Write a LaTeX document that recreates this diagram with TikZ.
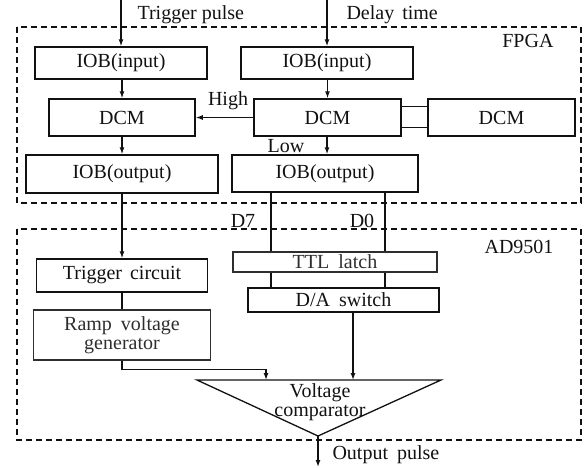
\documentclass[tikz,border=0pt]{standalone}
\usepackage{fontspec}
\setmainfont{Liberation Serif}
\usepackage{tikz}
\usetikzlibrary{positioning, calc, arrows.meta}
\definecolor{BlockInk}{HTML}{111111}
\definecolor{softGray}{HTML}{2E2E2E}

\begin{document}
\begin{tikzpicture}[x=1pt, y=-1pt, font=\fontsize{20}{19}\selectfont, text=BlockInk,
  blk/.style={draw=BlockInk, line width=1.5pt, inner sep=0pt, align=center},
  thinblk/.style={draw=softGray, line width=1.1pt, inner sep=0pt, align=center, text=softGray},
  chip/.style={draw=BlockInk, line width=1.3pt, dash pattern=on 6pt off 4pt},
  wire/.style={draw=BlockInk, line width=1.3pt},
  flow/.style={wire, -{Latex[length=7pt,width=5pt]}}]
  \useasboundingbox (0,0) rectangle (585,467);
  % chip outlines
  \draw[chip] (17,27) rectangle (581,203);
  \draw[chip] (17,229) rectangle (581,440);
  \node[anchor=east] (fpga) at (557,41) {FPGA};
  \node[anchor=east] (adc) at (557,247) {AD9501};
  % FPGA blocks
  \node[blk, minimum width=172pt, minimum height=32pt] (inL) at (121,63) {IOB(input)};
  \node[blk, minimum width=172pt, minimum height=32pt] (inR) at (327,63) {IOB(input)};
  \node[blk, minimum width=146pt, minimum height=37pt] (dcmL) at (122,117.5) {DCM};
  \node[blk, minimum width=147pt, minimum height=37pt] (dcmM) at (327.5,117.5) {DCM};
  \node[blk, minimum width=147pt, minimum height=37pt] (dcmR) at (501.5,117.5) {DCM};
  \node[blk, minimum width=192pt, minimum height=38pt] (outL) at (122,174) {IOB(output)};
  \node[blk, minimum width=186pt, minimum height=37pt] (outR) at (325,173.5) {IOB(output)};
  % AD9501 blocks
  \node[blk, minimum width=171pt, minimum height=33pt] (trig) at (122,275.5) {Trigger\hspace{3pt} circuit};
  \node[thinblk, minimum width=177pt, minimum height=50pt] (ramp) at (122,335) {Ramp\hspace{4pt} voltage\\generator};
  \node[thinblk, minimum width=204pt, minimum height=20pt] (ttl) at (335,262) {TTL\hspace{4pt} latch};
  \node[blk, minimum width=191pt, minimum height=24pt] (da) at (343.5,300) {D/A\hspace{4pt} switch};
  % comparator
  \coordinate (cmpL) at (197,380);
  \coordinate (cmpR) at (441,380);
  \coordinate (cmpTip) at (318,436);
  \draw[wire] (cmpL) -- (cmpR) -- (cmpTip) -- cycle;
  \node[align=center] (cmp) at (320,402) {Voltage\\comparator};
  \coordinate (cmpA) at (266,380);
  \coordinate (cmpB) at (353,380);
  % inputs and output
  \coordinate (trigIn) at (121,0);
  \coordinate (delayIn) at (327,0);
  \coordinate (pulseOut) at (318,467);
  \node[anchor=west] (trigTxt) at (134,15) {Trigger pulse};
  \node[anchor=west] (delayTxt) at (343,15) {Delay\hspace{3pt} time};
  \node[anchor=west] (outTxt) at (329,455) {Output\hspace{4pt} pulse};
  % data bus
  \coordinate (busA) at (271,0);
  \coordinate (busB) at (385,0);
  \node (d7) at (243,221) {D7};
  \node (d0) at (362,221) {D0};
  \node (high) at (228,101) {High};
  \node (low) at (286,146) {Low};
  % connectors
  \draw[flow] (trigIn) -- (inL);
  \draw[flow] (delayIn) -- (inR);
  \draw[flow] (inL.south -| dcmL) -- (dcmL);
  \draw[flow] (inR.south -| dcmM) -- (dcmM);
  \draw[flow] (dcmL) -- (outL);
  \draw[flow] (dcmM.south -| inR) -- (outR.north -| inR);
  \draw[flow] (dcmM) -- (dcmL);
  \draw[wire] ([yshift=11pt]dcmM.east) -- ([yshift=11pt]dcmR.west);
  \draw[wire] ([yshift=-10pt]dcmM.east) -- ([yshift=-10pt]dcmR.west);
  \draw[flow] (outL) -- (trig);
  \draw[wire] (trig) -- (ramp);
  \draw[wire] (outR.south -| busA) -- (ttl.north -| busA);
  \draw[wire] (outR.south -| busB) -- (ttl.north -| busB);
  \draw[wire] (ttl.south -| busA) -- (da.north -| busA);
  \draw[wire] (ttl.south -| busB) -- (da.north -| busB);
  \draw[flow] (ramp.south) -- ++(0,9) -| (cmpA);
  \draw[flow] (da.south -| cmpB) -- (cmpB);
  \draw[flow] (cmpTip) -- (pulseOut);
\end{tikzpicture}
\end{document}
